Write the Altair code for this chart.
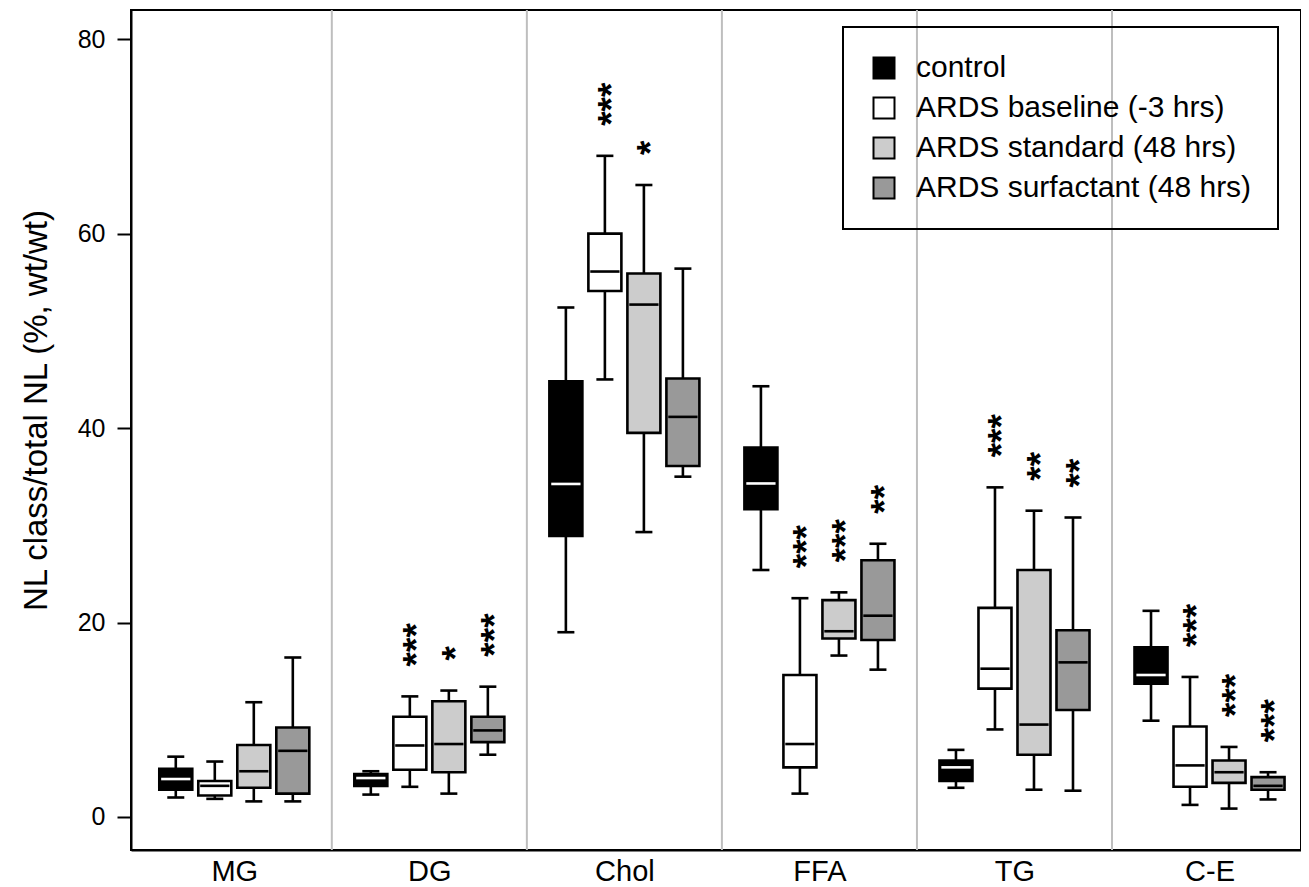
import json
import altair as alt
import pandas as pd

categories = ["MG", "DG", "Chol", "FFA", "TG", "C-E"]
groups = ["control", "ARDS baseline (-3 hrs)", "ARDS standard (48 hrs)", "ARDS surfactant (48 hrs)"]
fills = ["#000000", "#ffffff", "#cccccc", "#999999"]

# rows: categories, columns: groups
whisker_low = [
    [2.0, 1.86, 1.6, 1.6],
    [2.3, 3.1, 2.4, 6.4],
    [19.0, 45.0, 29.3, 35.0],
    [25.4, 2.4, 16.6, 15.15],
    [3.0, 9.0, 2.8, 2.7],
    [9.9, 1.24, 0.86, 1.8],
]
q1 = [
    [2.8, 2.2, 3.0, 2.4],
    [3.2, 4.85, 4.6, 7.7],
    [28.9, 54.1, 39.5, 36.1],
    [31.65, 5.1, 18.35, 18.2],
    [3.7, 13.2, 6.4, 11.0],
    [13.7, 3.1, 3.5, 2.8],
]
median = [
    [3.9, 3.2, 4.7, 6.8],
    [4.0, 7.35, 7.5, 8.9],
    [34.25, 56.1, 52.7, 41.15],
    [34.3, 7.5, 19.1, 20.7],
    [5.1, 15.25, 9.5, 15.9],
    [14.6, 5.3, 4.6, 3.2],
]
q3 = [
    [4.95, 3.7, 7.4, 9.2],
    [4.4, 10.3, 11.9, 10.3],
    [44.8, 60.0, 55.9, 45.1],
    [38.0, 14.6, 22.3, 26.4],
    [5.8, 21.5, 25.4, 19.2],
    [17.45, 9.3, 5.8, 4.1],
]
whisker_high = [
    [6.2, 5.7, 11.8, 16.4],
    [4.7, 12.4, 13.0, 13.4],
    [52.4, 68.0, 65.0, 56.4],
    [44.3, 22.5, 23.1, 28.1],
    [6.9, 33.9, 31.5, 30.8],
    [21.2, 14.4, 7.2, 4.6],
]
significance = [
    ["", "", "", ""],
    ["", "***", "*", "***"],
    ["", "***", "*", ""],
    ["", "***", "***", "**"],
    ["", "***", "**", "**"],
    ["", "***", "***", "***"],
]
y_ticks = [0, 20, 40, 60, 80]

FONT = "Liberation Sans"
BOX_HALF = 0.0846
MED_HALF = 0.075
CAP_HALF = 0.0436

rows = []
for i, cat in enumerate(categories):
    for j, g in enumerate(groups):
        pos = i + (j - 1.5) * 0.2
        rows.append({
            "category": cat, "group": g, "pos": pos,
            "box_l": pos - BOX_HALF, "box_r": pos + BOX_HALF,
            "med_l": pos - MED_HALF, "med_r": pos + MED_HALF,
            "cap_l": pos - CAP_HALF, "cap_r": pos + CAP_HALF,
            "low": whisker_low[i][j], "q1": q1[i][j], "median": median[i][j],
            "q3": q3[i][j], "high": whisker_high[i][j], "sig": significance[i][j],
        })
df = pd.DataFrame(rows)
sep_df = pd.DataFrame({"sep": [i + 0.5 for i in range(len(categories) - 1)]})

xscale = alt.Scale(domain=[-0.5296, 5.469], nice=False, zero=False)
yscale = alt.Scale(domain=[-3.4, 83.0], nice=False, zero=False)
YTITLE = "NL class/total NL (%, wt/wt)"

label_expr = json.dumps(categories) + "[datum.value]"
x_axis = alt.Axis(values=list(range(len(categories))), labelExpr=label_expr, ticks=False, tickSize=0,
                  grid=False, title=None, labelFontSize=29, labelFont=FONT, labelColor="black",
                  labelPadding=7, domainColor="black", domainWidth=2)
y_axis = alt.Axis(values=y_ticks, grid=False, tickSize=14, tickWidth=2, tickColor="black",
                  labelFontSize=25, labelFont=FONT, labelColor="black", labelPadding=12,
                  domainColor="black", domainWidth=2, titleFontSize=33, titleFont=FONT,
                  titleFontWeight="normal", titleColor="black", titleAngle=270,
                  titleX=-85, titleY=400, titleAlign="center", titleBaseline="alphabetic")


def X(field):
    return alt.X(field, type="quantitative", scale=xscale, axis=x_axis)


def Y(field):
    return alt.Y(field, type="quantitative", scale=yscale, axis=y_axis, title=YTITLE)


base = alt.Chart(df)

seps = alt.Chart(sep_df).mark_rule(color="#bebebe", strokeWidth=2).encode(x=X("sep"))

whiskers = base.mark_rule(color="black", strokeWidth=2.6).encode(x=X("pos"), y=Y("low"), y2="high")
caps_low = base.mark_rule(color="black", strokeWidth=2.6).encode(x=X("cap_l"), x2="cap_r", y=Y("low"))
caps_high = base.mark_rule(color="black", strokeWidth=2.6).encode(x=X("cap_l"), x2="cap_r", y=Y("high"))

boxes = base.mark_rect(stroke="black", strokeWidth=2.6).encode(
    x=X("box_l"), x2="box_r", y=Y("q1"), y2="q3",
    fill=alt.Fill("group:N", scale=alt.Scale(domain=groups, range=fills), title=None,
                  legend=alt.Legend(orient="none", legendX=712, legendY=17, strokeColor="black",
                                    padding=26, symbolType="square", symbolSize=441,
                                    symbolStrokeColor="black", symbolStrokeWidth=2,
                                    labelFontSize=30, labelFont=FONT, labelColor="black",
                                    labelOffset=17, rowPadding=10, labelLimit=600)),
)

medians = base.mark_rule(strokeWidth=2.6).encode(
    x=X("med_l"), x2="med_r", y=Y("median"),
    color=alt.condition(alt.datum.group == "control", alt.value("white"), alt.value("black")),
)

stars = base.transform_filter(alt.datum.sig != "").mark_text(
    angle=270, align="left", baseline="middle", dx=30, dy=8, fontSize=37, fontWeight="bold",
    font=FONT, color="black"
).encode(x=X("pos"), y=Y("high"), text="sig:N")

chart = alt.layer(seps, whiskers, caps_low, caps_high, boxes, medians, stars).properties(
    width=1170, height=840, autosize=alt.AutoSizeParams(type="none"),
    padding={"left": 123, "top": 2, "right": 0, "bottom": 36},
    background="white",
).configure_view(stroke="black", strokeWidth=2).configure_legend(strokeWidth=2)

chart.save("out.html", embed_options={"renderer": "svg", "actions": False})
